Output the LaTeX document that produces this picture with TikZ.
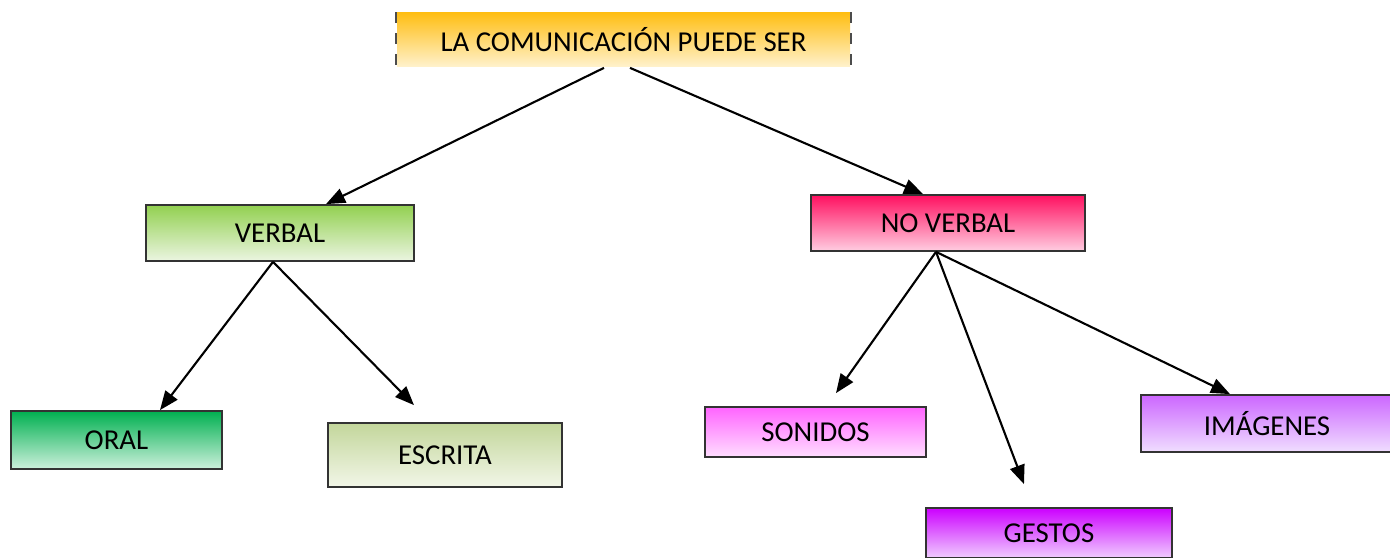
\documentclass[tikz,border=0pt]{standalone}
\usepackage{fontspec}
\setmainfont{Carlito}
\usetikzlibrary{arrows.meta,calc}

\tikzset{
  box/.style={draw=black!80, line width=0.5pt, anchor=center, inner sep=0pt,
    font=\fontsize{8.2}{10}\selectfont},
  link/.style={line width=0.6pt, -{Triangle[length=0.19cm,width=0.15cm]}}
}

\begin{document}
\begin{tikzpicture}
            \useasboundingbox (0,0) rectangle (13.9,5.58);
            \node[box, draw=none, top color={rgb,255:red,255;green,190;blue,20}, bottom color={rgb,255:red,255;green,242;blue,205},
                  minimum width=4.53cm, minimum height=0.54cm] (comm) at (6.235,5.18) {LA COMUNICACIÓN PUEDE SER};
            \draw[gray!60!black, dashed, line width=0.4pt] (comm.north west) -- (comm.south west)
                 (comm.north east) -- (comm.south east);
            \node[box, top color={rgb,255:red,146;green,208;blue,80}, bottom color={rgb,255:red,235;green,245;blue,225},
                  minimum width=2.68cm, minimum height=0.56cm] (verbal) at (2.80,3.25) {VERBAL};
            \node[box, top color={rgb,255:red,255;green,16;blue,96}, bottom color={rgb,255:red,255;green,205;blue,225},
                  minimum width=2.74cm, minimum height=0.56cm] (noverbal) at (9.48,3.35) {NO VERBAL};
            \node[box, top color={rgb,255:red,0;green,176;blue,80}, bottom color={rgb,255:red,205;green,240;blue,220},
                  minimum width=2.11cm, minimum height=0.58cm] (oral) at (1.165,1.18) {ORAL};
            \node[box, top color={rgb,255:red,195;green,214;blue,155}, bottom color={rgb,255:red,242;green,246;blue,232},
                  minimum width=2.34cm, minimum height=0.64cm] (escrita) at (4.45,1.03) {ESCRITA};
            \node[box, top color={rgb,255:red,255;green,100;blue,255}, bottom color={rgb,255:red,255;green,222;blue,255},
                  minimum width=2.21cm, minimum height=0.50cm] (sonidos) at (8.155,1.26) {SONIDOS};
            \node[box, top color={rgb,255:red,204;green,102;blue,255}, bottom color={rgb,255:red,240;green,222;blue,255},
                  minimum width=2.52cm, minimum height=0.57cm] (imagenes) at (12.67,1.345) {IMÁGENES};
            \node[box, top color={rgb,255:red,204;green,0;blue,255}, bottom color={rgb,255:red,240;green,205;blue,255},
                  minimum width=2.46cm, minimum height=0.50cm] (gestos) at (10.49,0.25) {GESTOS};

            % ramas principales
            \draw[link] ([xshift=-0.195cm]comm.south) -- ([xshift=0.46cm]verbal.north);
            \draw[link] ([xshift=0.065cm]comm.south) -- ([xshift=-0.25cm]noverbal.north);
            % verbal
            \draw[link] ([xshift=-0.07cm]verbal.south) -- ([xshift=0.435cm]oral.north);
            \draw[link] ([xshift=-0.07cm]verbal.south) -- ($(escrita.north)+(-0.31,0.17)$);
            % no verbal
            \draw[link] ([xshift=-0.12cm]noverbal.south) -- ($(sonidos.north)+(0.205,0.13)$);
            \draw[link] ([xshift=-0.12cm]noverbal.south) -- ($(gestos.north)+(-0.25,0.23)$);
            \draw[link] ([xshift=-0.12cm]noverbal.south) -- ([xshift=-0.37cm]imagenes.north);
        \end{tikzpicture}
\end{document}
